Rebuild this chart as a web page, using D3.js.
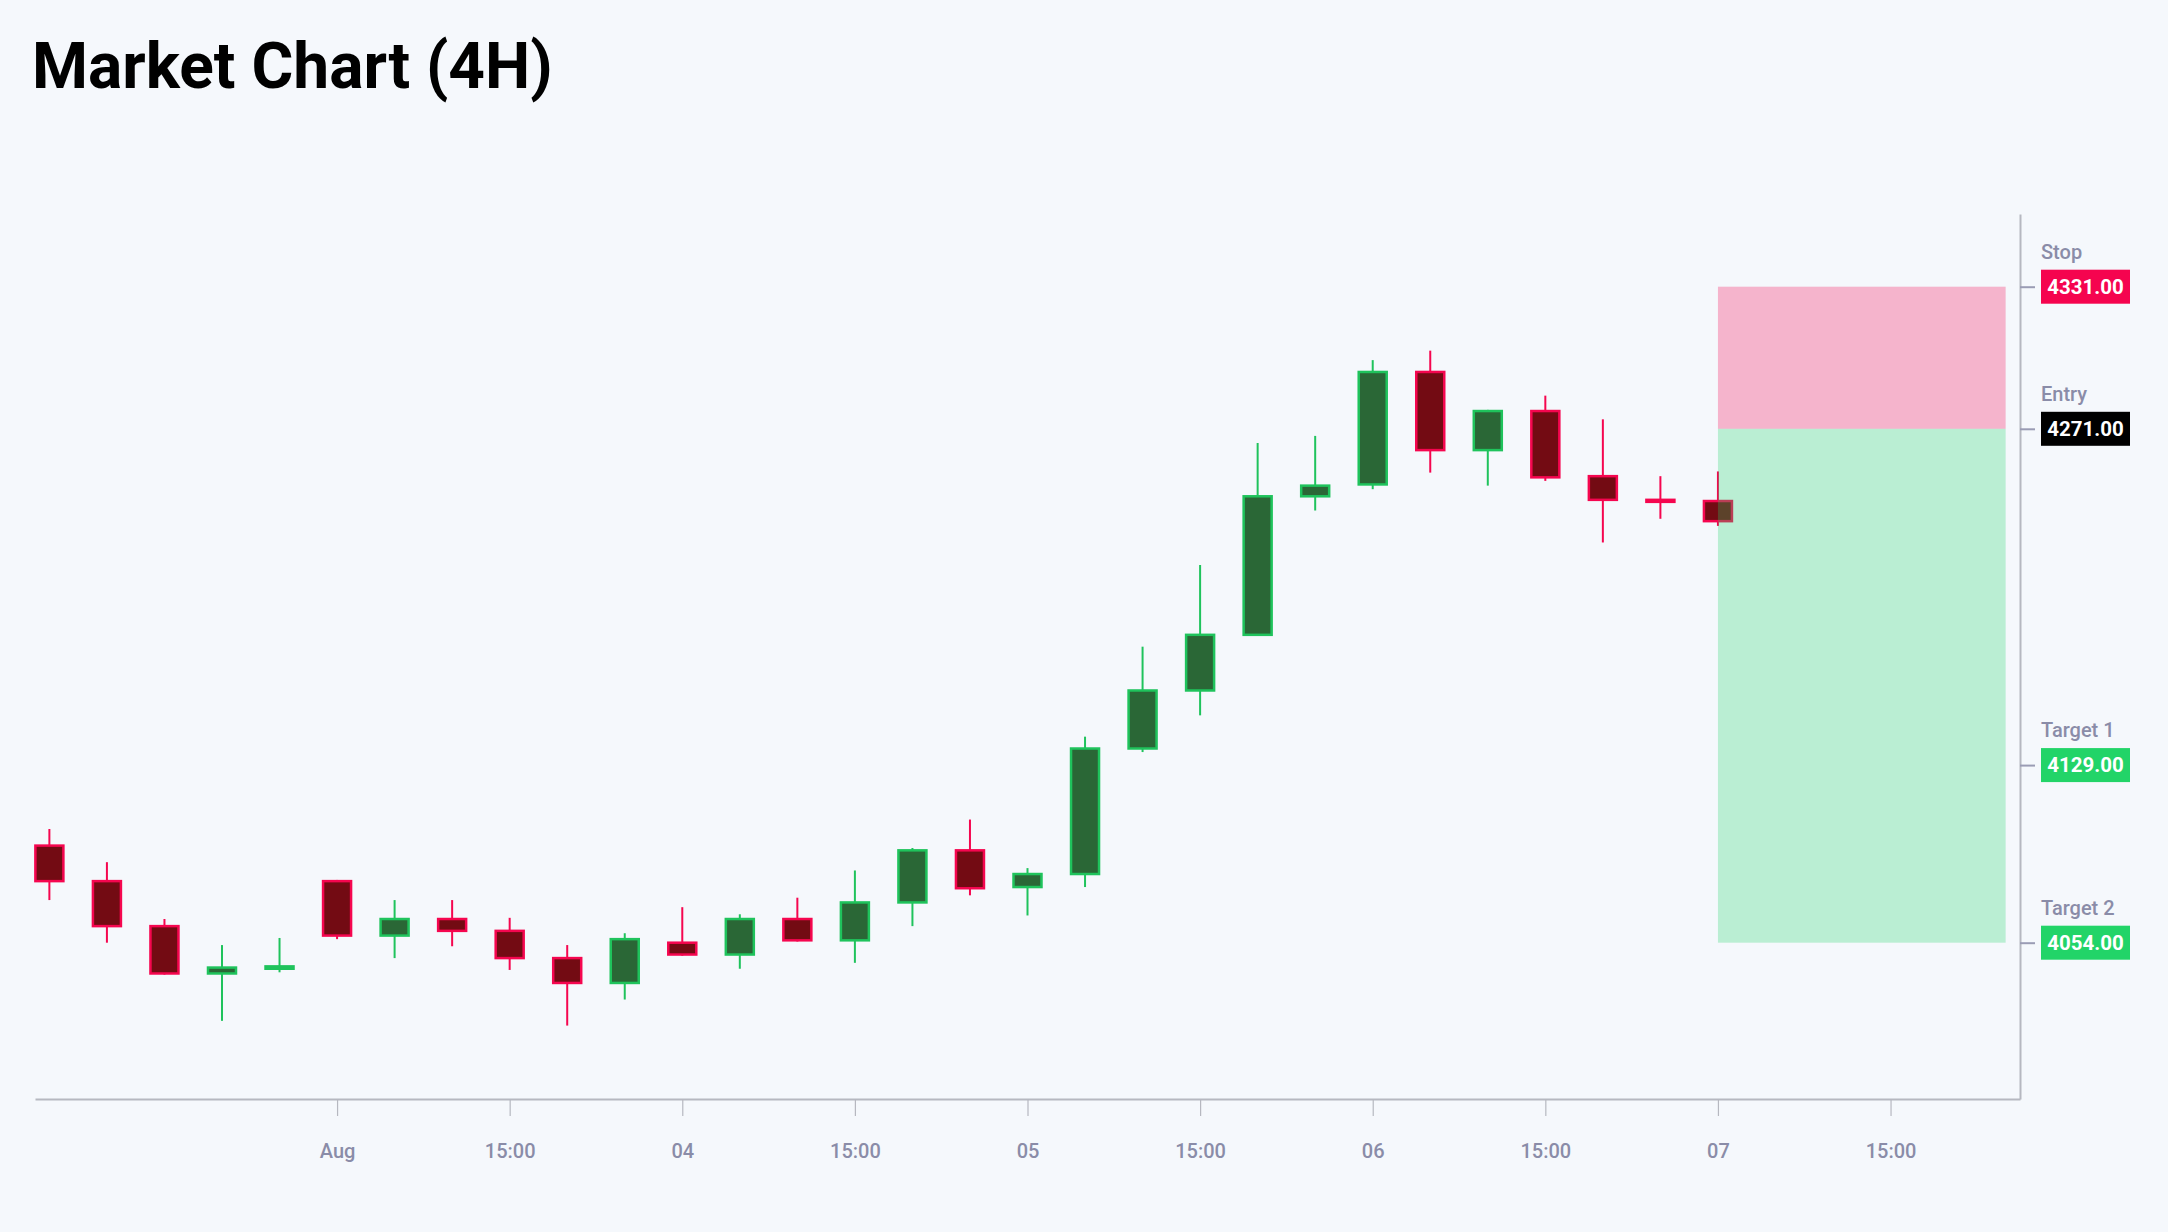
<!DOCTYPE html>
<html>
<head>
<meta charset="utf-8">
<script src="https://cdn.jsdelivr.net/npm/d3@7"></script>
<style>
  html, body { margin: 0; padding: 0; background: #f5f8fc; }
  svg { display: block; font-family: Roboto, 'Noto Sans', sans-serif; }
</style>
</head>
<body>
<svg width="2168" height="1232"></svg>
<script>
const svg = d3.select('svg')

// candles, one per 4h bar, in order
const opens  = [4095, 4080, 4061, 4041, 4043, 4080, 4057, 4064, 4059, 4047.5,
                4037, 4054, 4049, 4064, 4055, 4071, 4093, 4077.5, 4083, 4136,
                4160.5, 4184, 4242.5, 4247.5, 4295, 4262, 4278.5, 4251, 4241, 4240.5]
const highs  = [4102, 4088, 4064, 4053, 4056, 4080.5, 4072, 4072, 4064.5, 4053,
                4058, 4069, 4066, 4073, 4084.5, 4094, 4106, 4085.5, 4141, 4179,
                4213.5, 4265, 4268, 4300, 4304, 4279, 4285, 4275, 4251, 4253]
const lows   = [4072, 4054, 4040.5, 4021, 4041.5, 4055.5, 4047.5, 4052.5, 4042.5, 4019,
                4030, 4048.5, 4043, 4054.5, 4045.5, 4061, 4074, 4065.5, 4077.5, 4134.5,
                4150, 4183.5, 4236.5, 4245.5, 4252.5, 4247, 4249, 4223, 4233, 4230]
const closes = [4080, 4061, 4041, 4043.5, 4044, 4057, 4064, 4059, 4047.5, 4037,
                4055.5, 4049, 4064, 4055, 4071, 4093, 4077, 4083, 4136, 4160.5,
                4184, 4242.5, 4247, 4295, 4262, 4278.5, 4250.5, 4241, 4240.5, 4232]

// x axis ticks (candle slot) and their labels
const tickSlots  = [5, 8, 11, 14, 17, 20, 23, 26, 29, 32]
const tickLabels = ['Aug', '15:00', '04', '15:00', '05', '15:00', '06', '15:00', '07', '15:00']

// trade levels
const levelNames  = ['Stop', 'Entry', 'Target 1', 'Target 2']
const levelValues = [4331, 4271, 4129, 4054]
const levelColors = ['#f5044f', '#000000', '#22d468', '#22d468']
const zoneSlots = [29, 34]

const candles = opens.map((o, i) => ({ i, o, h: highs[i], l: lows[i], c: closes[i] }))

const plotLeft = 35, plotRight = 2020, plotTop = 214, plotBottom = 1099

const x = d3.scaleLinear().domain([-0.25, 34.25]).range([plotLeft, plotRight])
const y = d3.scaleLinear().domain([3988, 4361.7]).range([plotBottom, plotTop])

const bodyW = 28
const up = d => d.c > d.o
const bullStroke = '#1fc35c', bearStroke = '#f5064f'
const bullFill = '#2a6736', bearFill = '#730b13'

svg.append('text')
    .attr('x', 32)
    .attr('y', 88)
    .attr('font-size', 64)
    .attr('font-weight', 700)
    .attr('fill', '#000')
    .text('Market Chart (4H)')

// axes
const xAxis = svg.append('g')
    .attr('transform', `translate(0, ${plotBottom})`)
    .call(d3.axisBottom(x)
        .tickValues(tickSlots)
        .tickFormat((d, i) => tickLabels[i])
        .tickSize(17)
        .tickSizeOuter(0)
        .tickPadding(28))
xAxis.select('.domain').attr('stroke', '#b6b8c0').attr('stroke-width', 2)
xAxis.selectAll('.tick line').attr('stroke', '#b6b8c0').attr('stroke-width', 1.2)
xAxis.selectAll('.tick text')
    .attr('font-family', 'Roboto')
    .attr('font-size', 20)
    .attr('font-weight', 500)
    .attr('fill', '#8a8ca8')

const yAxis = svg.append('g')
    .attr('transform', `translate(${plotRight}, 0)`)
    .call(d3.axisRight(y)
        .tickValues(levelValues)
        .tickFormat('')
        .tickSize(15)
        .tickSizeOuter(0))
yAxis.select('.domain').attr('stroke', '#b6b8c0').attr('stroke-width', 2)
yAxis.selectAll('.tick line').attr('stroke', '#9a9cb4').attr('stroke-width', 2)

// candles
const g = svg.append('g')
const candle = g.selectAll('g.candle')
    .data(candles)
    .enter().append('g')
        .attr('class', 'candle')

candle.append('line')
    .attr('x1', d => x(d.i))
    .attr('x2', d => x(d.i))
    .attr('y1', d => y(d.h))
    .attr('y2', d => y(d.l))
    .attr('stroke', d => up(d) ? bullStroke : bearStroke)
    .attr('stroke-width', 2)

candle.append('rect')
    .attr('x', d => x(d.i) - bodyW / 2)
    .attr('y', d => y(Math.max(d.o, d.c)))
    .attr('width', bodyW)
    .attr('height', d => Math.max(2, Math.abs(y(d.o) - y(d.c))))
    .attr('fill', d => up(d) ? bullFill : bearFill)
    .attr('stroke', d => up(d) ? bullStroke : bearStroke)
    .attr('stroke-width', 2.5)

// risk / reward zones
svg.append('rect')
    .attr('x', x(zoneSlots[0]))
    .attr('y', y(levelValues[0]))
    .attr('width', x(zoneSlots[1]) - x(zoneSlots[0]))
    .attr('height', y(levelValues[1]) - y(levelValues[0]))
    .attr('fill', '#f5044f')
    .attr('fill-opacity', 0.28)

svg.append('rect')
    .attr('x', x(zoneSlots[0]))
    .attr('y', y(levelValues[1]))
    .attr('width', x(zoneSlots[1]) - x(zoneSlots[0]))
    .attr('height', y(levelValues[3]) - y(levelValues[1]))
    .attr('fill', '#22d468')
    .attr('fill-opacity', 0.28)

// level labels on the right
const labels = svg.selectAll('g.level')
    .data(levelValues)
    .enter().append('g')
        .attr('class', 'level')
        .attr('transform', d => `translate(${plotRight + 21}, ${y(d)})`)

labels.append('text')
    .attr('y', -28)
    .attr('font-size', 20)
    .attr('font-weight', 500)
    .attr('fill', '#8a8ca8')
    .text((d, i) => levelNames[i])

labels.append('rect')
    .attr('y', -17)
    .attr('width', 89)
    .attr('height', 34)
    .attr('fill', (d, i) => levelColors[i])

labels.append('text')
    .attr('x', 44.5)
    .attr('dy', '0.35em')
    .attr('text-anchor', 'middle')
    .attr('font-size', 20.5)
    .attr('font-weight', 700)
    .attr('fill', '#fff')
    .text(d => d3.format('.2f')(d))
</script>
</body>
</html>
